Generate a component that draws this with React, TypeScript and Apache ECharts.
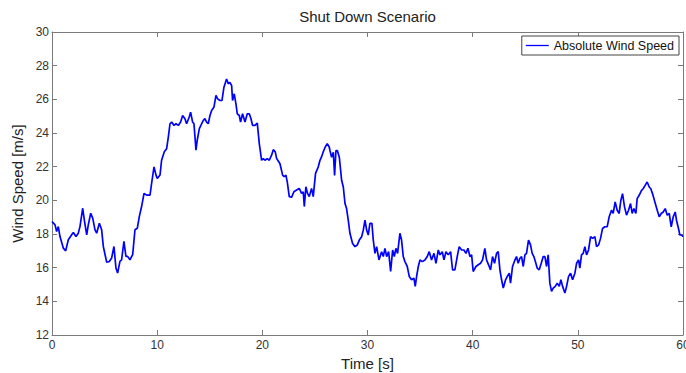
import React, { useEffect, useRef } from "react";
import * as echarts from "echarts";

const times: number[] = [
  0, 0.29, 0.44, 0.6, 0.76, 1.08, 1.3, 1.55, 1.87, 2.03,
  2.28, 2.5, 2.66, 2.92, 3.07, 3.3, 3.45, 3.68, 3.87, 4.09,
  4.25, 4.5, 4.72, 4.88, 5.2, 5.45, 5.67, 5.89, 6.08, 6.24,
  6.46, 6.62, 6.84, 7.03, 7.19, 7.41, 7.67, 7.89, 8.11, 8.3,
  8.52, 8.75, 9.0, 9.32, 9.47, 9.7, 9.89, 10.01, 10.27, 10.42,
  10.68, 10.9, 11.06, 11.22, 11.38, 11.6, 11.79, 12.01, 12.23, 12.42,
  12.64, 12.8, 13.05, 13.18, 13.37, 13.5, 13.69, 13.81, 14.01, 14.23,
  14.39, 14.54, 14.7, 14.86, 15.02, 15.18, 15.4, 15.59, 15.75, 15.97,
  16.16, 16.35, 16.6, 16.76, 16.92, 17.08, 17.17, 17.33, 17.49, 17.62,
  17.81, 17.93, 18.12, 18.35, 18.57, 18.76, 18.92, 19.07, 19.3, 19.52,
  19.71, 19.93, 20.09, 20.25, 20.47, 20.66, 20.88, 21.04, 21.23, 21.36,
  21.67, 21.93, 22.08, 22.24, 22.37, 22.56, 22.78, 23.0, 23.26, 23.51,
  23.73, 23.89, 23.99, 24.14, 24.3, 24.46, 24.68, 24.84, 25.06, 25.32,
  25.48, 25.63, 25.79, 25.98, 26.17, 26.36,
  26.43, 26.59, 26.75, 26.87, 27.0, 27.13, 27.32, 27.54, 27.7, 27.86,
  28.01, 28.17, 28.33, 28.58, 28.81, 29.03, 29.22, 29.44, 29.6, 29.76,
  29.92, 30.07, 30.23, 30.42, 30.55, 30.71, 30.87, 31.09, 31.34, 31.5,
  31.66, 31.82, 32.01, 32.2, 32.39, 32.55, 32.7, 32.86, 33.08, 33.24,
  33.4, 33.56, 33.78, 33.97, 34.19, 34.41, 34.54, 34.67, 34.83, 34.99,
  35.21, 35.46, 35.68, 35.87, 36.09, 36.32, 36.51, 36.73, 36.89, 37.11,
  37.27, 37.46, 37.68, 37.9, 38.09, 38.31, 38.53, 38.72, 38.95, 39.17,
  39.36, 39.55, 39.74, 39.9, 40.05, 40.31, 40.53, 40.75, 40.94, 41.16,
  41.32, 41.51, 41.7, 41.89, 42.08, 42.27, 42.43, 42.59, 42.75, 42.91,
  43.13, 43.29, 43.48, 43.6, 43.79, 44.02, 44.17, 44.33, 44.49, 44.65,
  44.81, 44.97, 45.12, 45.31, 45.5, 45.66, 45.82, 46.01, 46.14, 46.33,
  46.52, 46.71, 46.87, 47.03, 47.18, 47.34, 47.5, 47.66, 47.85, 48.04,
  48.23, 48.39, 48.55, 48.77, 48.93, 49.12, 49.31, 49.5, 49.72, 49.88,
  50.07, 50.19, 50.35, 50.51, 50.67, 50.83, 51.02, 51.21, 51.4, 51.62,
  51.78, 51.97, 52.16, 52.35, 52.57, 52.79, 52.98, 53.2, 53.36, 53.55,
  53.74, 53.93, 54.09, 54.25, 54.44, 54.63, 54.82, 55.01, 55.17, 55.33,
  55.52, 55.64, 55.83, 56.06, 56.21, 56.4, 56.59, 56.79, 56.94, 57.1,
  57.32, 57.55, 57.74, 57.93, 58.12, 58.31, 58.5, 58.69, 58.88, 59.07,
  59.26, 59.38, 59.57, 59.7, 59.86, 60.0,
];

const windSpeed: number[] = [
  18.74, 18.54, 18.15, 18.44, 17.85, 17.16, 17.0, 17.66, 17.95, 18.09,
  17.85, 18.05, 18.44, 19.53, 18.84, 17.95, 18.54, 19.23, 18.94, 18.25,
  18.05, 18.64, 18.25, 17.26, 16.32, 16.37, 16.57, 17.26, 15.98, 15.68,
  16.37, 16.47, 17.56, 16.67, 16.67, 16.47, 16.77, 18.25, 18.34, 19.03,
  19.63, 20.41, 20.31, 20.31, 21.0, 21.99, 21.5, 21.3, 21.5, 22.38,
  22.88, 23.07, 23.76, 24.55, 24.65, 24.45, 24.55, 24.45, 24.65, 25.04,
  24.85, 24.55, 24.95, 25.24, 24.65, 24.55, 22.98, 23.57, 24.26, 24.55,
  24.75, 24.85, 24.65, 24.55, 25.04, 25.34, 25.54, 26.23, 26.03, 25.93,
  25.93, 26.72, 27.21, 26.92, 27.01, 26.82, 25.93, 26.33, 25.73, 25.14,
  25.04, 24.65, 25.14, 24.65, 25.14, 25.14, 24.85, 24.45, 24.45, 24.59,
  23.37, 22.38, 22.48, 22.38, 22.48, 22.38, 22.68, 23.01, 22.88, 22.48,
  22.19, 21.5, 21.4, 21.5, 21.1, 20.22, 20.18, 20.51, 20.61, 20.71,
  20.41, 20.51, 19.63, 20.81, 20.41, 20.22, 20.71, 20.22, 21.6, 21.99,
  22.38, 22.58, 22.88, 23.17, 23.37, 23.17,
  22.96, 22.56, 22.86, 21.48, 22.96, 22.96, 22.56, 21.19, 20.79, 19.81,
  19.51, 18.82, 18.04, 17.44, 17.25, 17.35, 17.64, 17.84, 18.23, 18.82,
  18.23, 17.94, 18.63, 18.63, 17.64, 16.85, 17.25, 16.46, 16.95, 16.66,
  17.15, 16.66, 16.95, 15.77, 17.05, 16.66, 17.15, 16.85, 18.04, 17.64,
  16.66, 16.36, 16.07, 15.48, 15.28, 15.38, 14.89, 15.48, 16.07, 16.46,
  16.36, 16.46, 16.66, 16.95, 16.46, 16.85, 16.26, 17.05, 16.76, 16.95,
  16.46, 16.95, 16.76, 16.95, 15.87, 15.87, 16.66, 17.25, 17.05, 17.05,
  16.85, 17.15, 16.66, 16.76, 15.77, 16.07, 16.17, 16.26, 16.46, 17.15,
  16.46, 16.17, 15.87, 16.66, 16.26, 16.85, 16.95, 15.87, 15.28, 14.79,
  15.28, 15.48, 15.67, 15.08, 16.07, 16.46, 16.66, 16.26, 16.56, 16.66,
  16.07, 16.76, 16.85, 17.64, 17.35, 16.85, 16.66, 16.26, 15.97, 15.87,
  16.26, 16.66, 16.66, 16.07, 16.76, 15.08, 14.59, 14.79, 14.89, 15.08,
  14.89, 15.28, 14.89, 14.49, 14.89, 15.48, 15.67, 15.28, 15.67, 16.26,
  16.46, 15.97, 16.76, 16.85, 17.25, 16.76, 17.05, 17.84, 17.74, 17.84,
  17.25, 17.35, 17.74, 18.33, 18.43, 18.43, 19.02, 19.41, 19.22, 19.91,
  19.41, 19.22, 20.0, 20.4, 19.61, 19.12, 19.41, 19.81, 19.22, 19.51,
  19.22, 20.1, 20.3, 20.59, 20.69, 20.89, 21.09, 20.79, 20.69, 20.4,
  19.91, 19.41, 19.02, 19.22, 19.31, 19.51, 19.12, 19.22, 18.43, 19.02,
  19.31, 18.82, 18.33, 17.94, 17.94, 17.84,
];

const xTicks = { min: 0, max: 60, interval: 10 };
const yTicks = { min: 12, max: 30, interval: 2 };

const FONT = "'Liberation Sans', Arial, Helvetica, sans-serif";
const AXIS_GRAY = "#7a7a7a";

export default function App() {
  const ref = useRef<HTMLDivElement>(null);

  useEffect(() => {
    if (!ref.current) return;
    const chart = echarts.init(ref.current, undefined, { renderer: "svg" });
    const n = Math.min(times.length, windSpeed.length);
    const data: [number, number][] = [];
    for (let i = 0; i < n; i++) data.push([times[i], windSpeed[i]]);

    const axisLine = { show: true, onZero: false, lineStyle: { color: AXIS_GRAY, width: 1 } };
    const axisTick = { show: true, inside: true, length: 5, lineStyle: { color: AXIS_GRAY, width: 1 } };
    const labelStyle = { fontSize: 12, color: "#333", fontFamily: FONT };

    chart.setOption({
      animation: false,
      backgroundColor: "#fff",
      grid: {
        left: 52,
        right: 3,
        top: 32,
        bottom: 38,
        containLabel: false,
        outerBoundsMode: "none",
      },
      graphic: [
        {
          type: "text",
          x: 367.5,
          y: 16,
          style: {
            text: "Shut Down Scenario",
            fontSize: 15,
            fontFamily: FONT,
            fill: "#222",
            textAlign: "center",
            textVerticalAlign: "middle",
          },
        },
      ],
      legend: {
        show: true,
        right: 7,
        top: 36,
        padding: [3, 5, 3, 4],
        borderColor: "#444",
        borderWidth: 1,
        backgroundColor: "#fff",
        borderRadius: 0,
        itemWidth: 23,
        itemHeight: 1.3,
        textStyle: { fontSize: 12.5, color: "#111", fontFamily: FONT },
        data: [{ name: "Absolute Wind Speed", icon: "rect" }],
      },
      xAxis: [
        {
          type: "value",
          position: "bottom",
          ...xTicks,
          axisLine,
          axisTick,
          axisLabel: { ...labelStyle, margin: 4 },
          splitLine: { show: false },
          name: "Time [s]",
          nameLocation: "middle",
          nameGap: 8,
          nameTextStyle: { fontSize: 15, color: "#222", fontFamily: FONT },
        },
        {
          type: "value",
          position: "top",
          ...xTicks,
          axisLine,
          axisTick,
          axisLabel: { show: false },
          splitLine: { show: false },
        },
      ],
      yAxis: [
        {
          type: "value",
          position: "left",
          ...yTicks,
          axisLine,
          axisTick,
          axisLabel: { ...labelStyle, margin: 3 },
          splitLine: { show: false },
          name: "Wind Speed [m/s]",
          nameLocation: "middle",
          nameGap: 18,
          nameTextStyle: { fontSize: 15, color: "#222", fontFamily: FONT },
        },
        {
          type: "value",
          position: "right",
          ...yTicks,
          axisLine,
          axisTick,
          axisLabel: { show: false },
          splitLine: { show: false },
        },
      ],
      series: [
        {
          name: "Absolute Wind Speed",
          type: "line",
          xAxisIndex: 0,
          yAxisIndex: 0,
          data,
          symbol: "none",
          showSymbol: false,
          color: "#0000ff",
          lineStyle: { color: "#0000ff", width: 1.7 },
          z: 3,
        },
      ],
    });
    return () => chart.dispose();
  }, []);

  return (
    <div
      ref={ref}
      style={{ position: "fixed", left: 0, top: 0, width: 686, height: 373 }}
    />
  );
}
